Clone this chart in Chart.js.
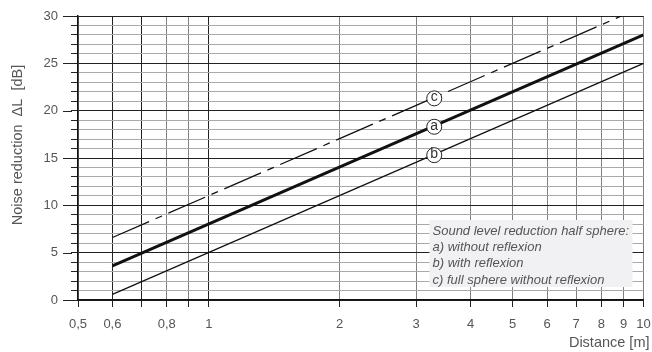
<!DOCTYPE html>
<html>
<head>
<meta charset="utf-8">
<script src="https://cdn.jsdelivr.net/npm/chart.js@4/dist/chart.umd.min.js"></script>
<style>
  html, body { margin: 0; padding: 0; background: #fff; }
  #wrap { width: 652px; height: 352px; }
</style>
</head>
<body>
<div id="wrap"><canvas id="chart" width="652" height="352"></canvas></div>
<script>
// ---- data ----
const xTicks      = [0.5, 0.6, 0.7, 0.8, 0.9, 1, 2, 3, 4, 5, 6, 7, 8, 9, 10];
const xTickLabels = ['0,5', '0,6', '', '0,8', '', '1', '2', '3', '4', '5', '6', '7', '8', '9', '10'];

// a) without reflexion (thick), b) with reflexion, c) full sphere (dash-dot)
const lineA = [{ x: 0.6, y: 3.6 }, { x: 10, y: 28 }];
const lineB = [{ x: 0.6, y: 0.6 }, { x: 10, y: 25 }];
const lineC = [{ x: 0.6, y: 6.6 }, { x: 8.9, y: 30 }];

// circled markers sitting on the lines
const markerLetters = ['c', 'a', 'b'];
const markerPoints  = [{ x: 3.3, y: 21.3 }, { x: 3.3, y: 18.3 }, { x: 3.3, y: 15.3 }];

const legendLines = [
    'Sound level reduction half sphere:',
    'a) without reflexion',
    'b) with reflexion',
    'c) full sphere without reflexion'
];

const yTitle = 'Noise reduction  \u0394L  [dB]';
const xTitle = 'Distance [m]';

const FONT = '"Liberation Sans", Arial, Helvetica, sans-serif';
const TXT = '#555';

// longer ticks every 5 dB on the y axis
const majorTicks = {
    id: 'majorTicks',
    afterDraw(chart) {
        const y = chart.scales.y;
        const ctx = chart.ctx;
        ctx.save();
        ctx.strokeStyle = '#222';
        ctx.lineWidth = 1;
        y.ticks.forEach(t => {
            if (t.value % 5 !== 0) return;
            const py = Math.round(y.getPixelForValue(t.value)) + 0.5;
            ctx.beginPath();
            ctx.moveTo(chart.chartArea.left - 15, py);
            ctx.lineTo(chart.chartArea.left - 6, py);
            ctx.stroke();
        });
        ctx.restore();
    }
};

// axis titles (placed off-centre like the original)
const axisTitles = {
    id: 'axisTitles',
    afterDraw(chart) {
        const a = chart.chartArea;
        const ctx = chart.ctx;
        ctx.save();
        ctx.font = '14.5px ' + FONT;
        ctx.fillStyle = TXT;
        ctx.textBaseline = 'middle';
        ctx.textAlign = 'right';
        ctx.fillText(xTitle, a.right + 6, a.bottom + 43);
        ctx.translate(18, a.top + 129);
        ctx.rotate(-Math.PI / 2);
        ctx.textAlign = 'center';
        ctx.fillText(yTitle, 0, 0);
        ctx.restore();
    }
};

// letters inside the circles
const markerText = {
    id: 'markerText',
    afterDatasetsDraw(chart) {
        const meta = chart.getDatasetMeta(3);
        const ctx = chart.ctx;
        ctx.save();
        ctx.font = '14px ' + FONT;
        ctx.fillStyle = '#333';
        ctx.textAlign = 'center';
        ctx.textBaseline = 'middle';
        meta.data.forEach((pt, i) => {
            ctx.fillText(markerLetters[i], pt.x, pt.y - 1);
        });
        ctx.restore();
    }
};

// explanation box bottom right
const noteBox = {
    id: 'noteBox',
    afterDatasetsDraw(chart) {
        const a = chart.chartArea;
        const ctx = chart.ctx;
        const w = 203, h = 67;
        const x0 = a.right - 11 - w;
        const y0 = a.bottom - 13 - h;
        ctx.save();
        ctx.fillStyle = '#f1f1f3';
        ctx.fillRect(x0, y0, w, h);
        ctx.font = 'italic 13px ' + FONT;
        ctx.fillStyle = TXT;
        ctx.textBaseline = 'alphabetic';
        legendLines.forEach((s, i) => {
            ctx.fillText(s, x0 + 3, y0 + 15 + i * 16.2);
        });
        ctx.restore();
    }
};

const lineBase = { showLine: true, pointRadius: 0, borderColor: '#111', fill: false, order: 2 };

new Chart(document.getElementById('chart').getContext('2d'), {
    type: 'scatter',
    data: {
        datasets: [
            { ...lineBase, label: 'a', data: lineA, borderWidth: 3 },
            { ...lineBase, label: 'b', data: lineB, borderWidth: 1.3 },
            { ...lineBase, label: 'c', data: lineC, borderWidth: 1.3, borderDash: [40, 7, 7, 7] },
            {
                label: 'markers',
                data: markerPoints,
                showLine: false,
                pointRadius: 7.5,
                pointBackgroundColor: '#fff',
                pointBorderColor: '#222',
                pointBorderWidth: 1,
                order: 0
            }
        ]
    },
    options: {
        responsive: false,
        animation: false,
        layout: { padding: { top: 16, right: 8, left: 0, bottom: 0 } },
        plugins: {
            legend: { display: false },
            tooltip: { enabled: false }
        },
        scales: {
            x: {
                type: 'logarithmic',
                min: 0.5,
                max: 10,
                afterBuildTicks: s => { s.ticks = xTicks.map(v => ({ value: v })); },
                afterFit: s => { s.height = 52; s.paddingLeft = 0; s.paddingRight = 0; },
                ticks: {
                    autoSkip: false,
                    maxRotation: 0,
                    padding: 10,
                    color: TXT,
                    font: { family: FONT, size: 13 },
                    callback: (v) => {
                        const i = xTicks.indexOf(v);
                        return i >= 0 ? xTickLabels[i] : '';
                    }
                },
                grid: {
                    tickLength: 7,
                    tickColor: '#222',
                    color: c => {
                        const v = c.tick ? c.tick.value : 0;
                        return (v === 0.6 || v === 0.7 || v === 1) ? '#222' : '#808080';
                    },
                    lineWidth: 1
                },
                border: { display: true, color: '#111', width: 1.5 }
            },
            y: {
                min: 0,
                max: 30,
                afterFit: s => { s.width = 78; s.paddingTop = 0; s.paddingBottom = 0; },
                ticks: {
                    stepSize: 1,
                    autoSkip: false,
                    padding: 13,
                    color: TXT,
                    font: { family: FONT, size: 13 },
                    callback: v => (v % 5 === 0 ? String(v) : '')
                },
                grid: {
                    tickLength: 7,
                    tickColor: '#222',
                    color: c => (c.tick && c.tick.value % 5 === 0 ? '#222' : '#aaa'),
                    lineWidth: 1
                },
                border: { display: true, color: '#111', width: 1.5 }
            }
        }
    },
    plugins: [majorTicks, markerText, noteBox, axisTitles]
});
</script>
</body>
</html>
